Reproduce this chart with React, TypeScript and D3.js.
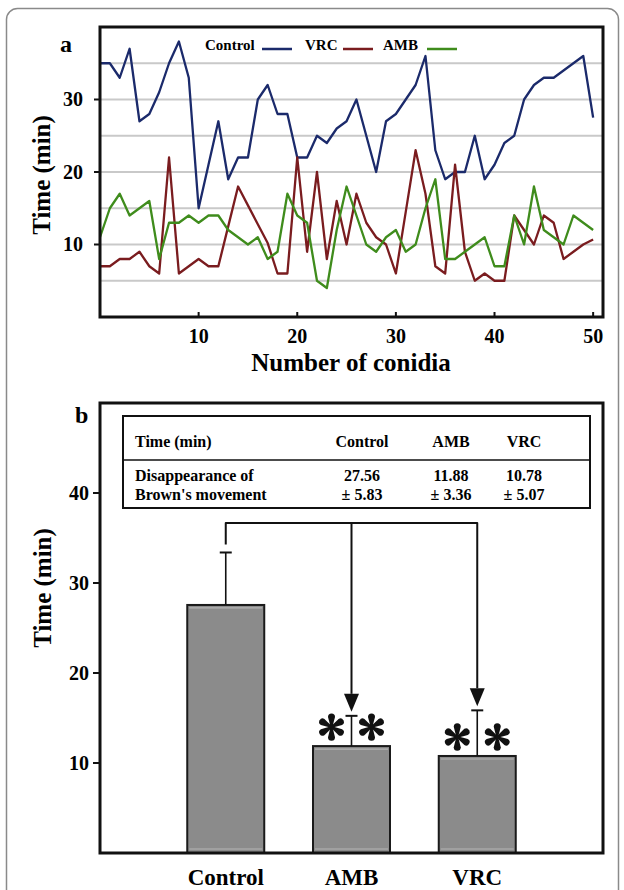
import React from "react";
import * as d3 from "d3";

// ---------- Data: panel a ----------
const controlTimes = [35, 35, 33, 37, 27, 28, 31, 35, 38, 33, 15, 21, 27, 19, 22, 22, 30, 32, 28, 28, 22, 22, 25, 24, 26, 27, 30, 25, 20, 27, 28, 30, 32, 36, 23, 19, 20, 20, 25, 19, 21, 24, 25, 30, 32, 33, 33, 34, 35, 36, 27.5];
const vrcTimes = [7, 7, 8, 8, 9, 7, 6, 22, 6, 7, 8, 7, 7, 12.5, 18, 15.4, 12.8, 10.2, 6, 6, 22, 9, 20, 8, 16, 10, 17, 13, 11, 10, 6, 14.5, 23, 17, 7, 6, 21, 9, 5, 6, 5, 5, 14, 12, 10, 14, 13, 8, 9, 10, 10.7];
const ambTimes = [11, 15, 17, 14, 15, 16, 8, 13, 13, 14, 13, 14, 14, 12, 11, 10, 11, 8, 9, 17, 14, 13, 5, 4, 12, 18, 14, 10, 9, 11, 12, 9, 10, 15, 19, 8, 8, 9, 10, 11, 7, 7, 14, 10, 18, 12, 11, 10, 14, 13, 12];
const xTicksA = [10, 20, 30, 40, 50];
const yTicksA = [10, 20, 30];
const gridA = [5, 10, 15, 20, 25, 30, 35];
const legendNames = ["Control", "VRC", "AMB"];

// ---------- Data: panel b ----------
const groups = ["Control", "AMB", "VRC"];
const means = [27.56, 11.88, 10.78];
const sds = [5.83, 3.36, 5.07];
const meanLabels = ["27.56", "11.88", "10.78"];
const sdLabels = ["± 5.83", "± 3.36", "± 5.07"];
const yTicksB = [10, 20, 30, 40];

const SERIF = "Liberation Serif, DejaVu Serif, serif";
const COLORS = { Control: "#1b2a6b", VRC: "#7a1c1f", AMB: "#3f8c1c" } as Record<string, string>;

function Asterisk({ x, y }: { x: number; y: number }) {
  const d = 10.2, r = 3.5;
  const petal = `M-0.9,0 L${-r},${-d} A${r},${r} 0 1 1 ${r},${-d} L0.9,0 Z`;
  return (
    <g transform={`translate(${x},${y})`}>
      {[0, 60, 120, 180, 240, 300].map((a) => (
        <path key={a} d={petal} transform={`rotate(${a})`} fill="#111" />
      ))}
      <circle r={2.2} fill="#111" />
    </g>
  );
}

export default function App() {
  // panel a geometry
  const aL = 100, aR = 603, aT = 27, aB = 317;
  const xA = d3.scaleLinear().domain([0, 51]).range([aL, aR]);
  const yA = d3.scaleLinear().domain([0, 40]).range([aB, aT]);
  const line = d3
    .line<number>()
    .x((_, i) => xA(i))
    .y((d) => yA(d));
  const series = [
    { name: "Control", values: controlTimes },
    { name: "VRC", values: vrcTimes },
    { name: "AMB", values: ambTimes },
  ];

  // panel b geometry
  const bL = 100, bR = 603, bT = 403, bB = 853;
  const xB = d3.scalePoint<string>().domain(groups).range([bL, bR]).padding(1);
  const yB = d3.scaleLinear().domain([0, 50]).range([bB, bT]);
  const barW = 77;
  const bracketY = 523;
  const arrowH = 18;
  const arrowW = 15;

  const legendPos = [
    { tx: 205, lx: 262 },
    { tx: 305, lx: 343 },
    { tx: 383, lx: 427 },
  ];

  const tableX = 123, tableY = 416, tableW = 467, tableH = 92;
  const colX = [362, 451, 524];

  const errTop = (i: number) => yB(means[i] + sds[i]);
  const tipY = (i: number) => errTop(i) - 4;
  const T = { fontFamily: SERIF, fontWeight: 700 } as React.CSSProperties;

  return (
    <svg
      width={624}
      height={890}
      viewBox="0 0 624 890"
      style={{ position: "absolute", left: 0, top: 0, background: "#fff", fontFamily: SERIF }}
    >
      <rect x={0} y={0} width={624} height={890} fill="#fff" />
      {/* outer rounded border */}
      <rect x={6.5} y={8.5} width={612} height={900} rx={11} fill="none" stroke="#8a8a8a" strokeWidth={1.5} />

      {/* ================= Panel a ================= */}
      <text x={60} y={52} fontSize={24} style={T}>a</text>
      {gridA.map((g) => (
        <line key={g} x1={aL} x2={aR} y1={yA(g)} y2={yA(g)} stroke="#c9c9c9" strokeWidth={2} />
      ))}
      {series.map((s) => (
        <path key={s.name} d={line(s.values) || ""} fill="none" stroke={COLORS[s.name]} strokeWidth={2.3} strokeLinejoin="round" />
      ))}
      <rect x={aL} y={aT} width={aR - aL} height={aB - aT} fill="none" stroke="#111" strokeWidth={3} />
      {xTicksA.map((t) => (
        <g key={t}>
          <line x1={xA(t)} x2={xA(t)} y1={aB} y2={aB - 5} stroke="#111" strokeWidth={2} />
          <text x={xA(t)} y={343} fontSize={20} textAnchor="middle" style={T}>{t}</text>
        </g>
      ))}
      {yTicksA.map((t) => (
        <g key={t}>
          <line x1={aL} x2={aL - 6} y1={yA(t)} y2={yA(t)} stroke="#111" strokeWidth={2} />
          <text x={83} y={yA(t) + 6.5} fontSize={20} textAnchor="end" style={T}>{t}</text>
        </g>
      ))}
      <text x={351} y={371} fontSize={25} textAnchor="middle" style={T}>Number of conidia</text>
      <text transform="translate(50,175) rotate(-90)" fontSize={25} textAnchor="middle" style={T}>Time (min)</text>
      {/* legend */}
      {legendNames.map((n, i) => (
        <g key={n}>
          <text x={legendPos[i].tx} y={50} fontSize={15} style={T}>{n}</text>
          <line x1={legendPos[i].lx} x2={legendPos[i].lx + 30} y1={49} y2={49} stroke={COLORS[n]} strokeWidth={2.5} />
        </g>
      ))}

      {/* ================= Panel b ================= */}
      <text x={75} y={423} fontSize={24} style={T}>b</text>
      {/* bars */}
      {groups.map((g, i) => {
        const cx = xB(g) as number;
        return (
          <g key={g}>
            <rect x={cx - barW / 2} y={yB(means[i])} width={barW} height={bB - yB(means[i])} fill="#8b8b8b" stroke="#1a1a1a" strokeWidth={2} />
            <line x1={cx - barW / 2 + 2} x2={cx + barW / 2 - 2} y1={yB(means[i]) + 3} y2={yB(means[i]) + 3} stroke="#b5b5b5" strokeWidth={1.2} />
            <line x1={cx - barW / 2 + 2} x2={cx + barW / 2 - 2} y1={bB - 4} y2={bB - 4} stroke="#b5b5b5" strokeWidth={1.2} />
            {/* error bar */}
            <line x1={cx} x2={cx} y1={yB(means[i])} y2={errTop(i)} stroke="#111" strokeWidth={1.6} />
            <line x1={cx - 6} x2={cx + 6} y1={errTop(i)} y2={errTop(i)} stroke="#111" strokeWidth={2} />
            <text x={cx} y={885} fontSize={23} textAnchor="middle" style={T}>{g}</text>
          </g>
        );
      })}
      {/* significance asterisks */}
      {groups.slice(1).map((g, k) => {
        const i = k + 1;
        const cx = xB(g) as number;
        const cy = yB(means[i]) - 19;
        return (
          <g key={g}>
            {[-20, 20].map((dx) => (
              <Asterisk key={dx} x={cx + dx} y={cy} />
            ))}
          </g>
        );
      })}
      {/* bracket with arrows */}
      <path
        d={`M${xB("Control")},${errTop(0) - 8} V${bracketY} H${xB("VRC")} V${tipY(2) - arrowH}`}
        fill="none"
        stroke="#111"
        strokeWidth={2}
        strokeLinejoin="round"
      />
      <line x1={xB("AMB")} x2={xB("AMB")} y1={bracketY} y2={tipY(1) - arrowH} stroke="#111" strokeWidth={2} />
      {[1, 2].map((i) => {
        const cx = xB(groups[i]) as number;
        const t = tipY(i);
        return <path key={i} d={`M${cx - arrowW / 2},${t - arrowH} L${cx + arrowW / 2},${t - arrowH} L${cx},${t} Z`} fill="#111" />;
      })}
      {/* frame */}
      <rect x={bL} y={bT} width={bR - bL} height={bB - bT} fill="none" stroke="#111" strokeWidth={3} />
      {yTicksB.map((t) => (
        <g key={t}>
          <line x1={bL} x2={bL - 7} y1={yB(t)} y2={yB(t)} stroke="#111" strokeWidth={2} />
          <text x={89} y={yB(t) + 6.5} fontSize={20} textAnchor="end" style={T}>{t}</text>
        </g>
      ))}
      <text transform="translate(51,588) rotate(-90)" fontSize={25} textAnchor="middle" style={T}>Time (min)</text>
      {/* table */}
      <rect x={tableX} y={tableY} width={tableW} height={tableH} fill="#fff" stroke="#111" strokeWidth={2} />
      <line x1={tableX} x2={tableX + tableW} y1={460} y2={460} stroke="#111" strokeWidth={1.5} />
      <text x={135} y={447} fontSize={16} style={T}>Time (min)</text>
      {groups.map((g, i) => (
        <g key={g}>
          <text x={colX[i]} y={447} fontSize={16} textAnchor="middle" style={T}>{g}</text>
          <text x={colX[i]} y={481} fontSize={16} textAnchor="middle" style={T}>{meanLabels[i]}</text>
          <text x={colX[i]} y={500} fontSize={16} textAnchor="middle" style={T}>{sdLabels[i]}</text>
        </g>
      ))}
      <text x={135} y={481} fontSize={16} style={T}>Disappearance of</text>
      <text x={135} y={500} fontSize={16} style={T}>Brown's movement</text>
    </svg>
  );
}
